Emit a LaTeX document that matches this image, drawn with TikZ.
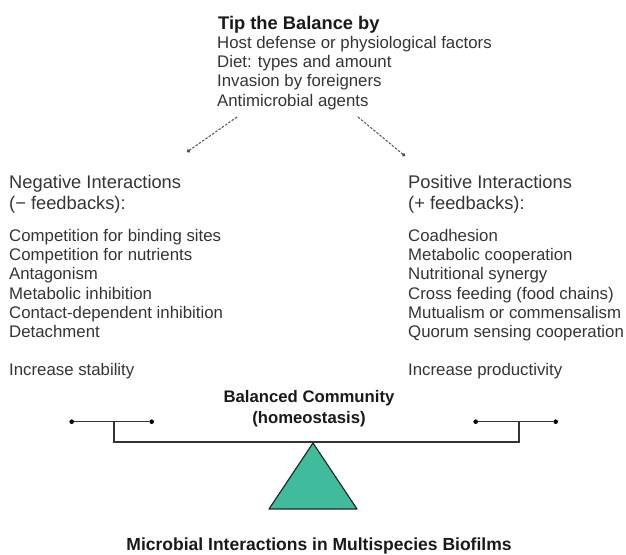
\documentclass[tikz,border=0pt]{standalone}
\usepackage{fontspec}
\setmainfont{Liberation Sans}
\usetikzlibrary{arrows.meta, positioning}

\definecolor{fulcrumfill}{RGB}{64,188,156}
\definecolor{ink}{RGB}{52,52,52}

\begin{document}
\begin{tikzpicture}[x=1pt, y=-1pt,
  txt/.style={inner sep=0pt, align=left, text=ink,
              font=\fontsize{16.8}{19.2}\selectfont},
  head/.style={txt, font=\fontsize{18.3}{21}\selectfont},
  bold/.style={txt, align=center, text=black!90,
               font=\bfseries\fontsize{16.7}{21}\selectfont},
  tipline/.style={draw=ink!85, line width=1pt, dash pattern=on 2.5pt off 1.5pt,
                  -{Circle[length=3.5pt]}},
  beam/.style={draw=ink, line width=1.5pt},
  pan/.style={circle, fill=black, inner sep=0pt, minimum size=4.6pt}]
  \useasboundingbox (0,0) rectangle (626,554);

  % what can tip the balance
  \node[txt, anchor=base west, font=\bfseries\fontsize{18.3}{21}\selectfont,
        text=black!90] (tip) at (218,29) {Tip the Balance by};
  \node[txt, anchor=north west] (tiplist) at (217,36.2)
    {Host defense or physiological factors\\Diet: types and amount\\
     Invasion by foreigners\\Antimicrobial agents};
  \coordinate (tipl) at (237,117);
  \coordinate (tipr) at (358,117);
  \coordinate (negin) at (187,152);
  \coordinate (posin) at (405,156);
  \draw[tipline] (tipl) -- (negin);
  \draw[tipline] (tipr) -- (posin);

  % negative side
  \node[head, anchor=north west] (neghead) at (9,174.6)
    {Negative Interactions\\(\textminus{} feedbacks):};
  \node[txt, anchor=north west] (neglist) at (9,229.2)
    {Competition for binding sites\\Competition for nutrients\\Antagonism\\
     Metabolic inhibition\\Contact-dependent inhibition\\Detachment};
  \node[txt, anchor=base west] (negres) at (9,375.5) {Increase stability};

  % positive side
  \node[head, anchor=north west] (poshead) at (408,174.6)
    {Positive Interactions\\(+ feedbacks):};
  \node[txt, anchor=north west] (poslist) at (408,229.2)
    {Coadhesion\\Metabolic cooperation\\Nutritional synergy\\
     Cross feeding (food chains)\\Mutualism or commensalism\\
     Quorum sensing cooperation};
  \node[txt, anchor=base west] (posres) at (408,375.5) {Increase productivity};

  % the balance itself
  \node[bold, anchor=north] (balance) at (309,390.3)
    {Balanced Community\\(homeostasis)};
  \node[pan] (ll) at (71.7,421.7) {};
  \node[pan] (lr) at (151.7,421.7) {};
  \node[pan] (rl) at (475.7,421.7) {};
  \node[pan] (rr) at (555.7,421.7) {};
  \draw[beam] (ll) -- (lr);
  \draw[beam] (rl) -- (rr);
  \draw[beam] (114,421.7) -- (114,442) -- (519,442) -- (519,421.7);
  \draw[draw=black!85, line width=1.2pt, fill=fulcrumfill, line join=round]
    (313,443) -- (357,509) -- (269,509) -- cycle;

  \node[bold, anchor=base, font=\bfseries\fontsize{17.5}{21}\selectfont]
    (caption) at (319,550.5) {Microbial Interactions in Multispecies Biofilms};
\end{tikzpicture}
\end{document}
